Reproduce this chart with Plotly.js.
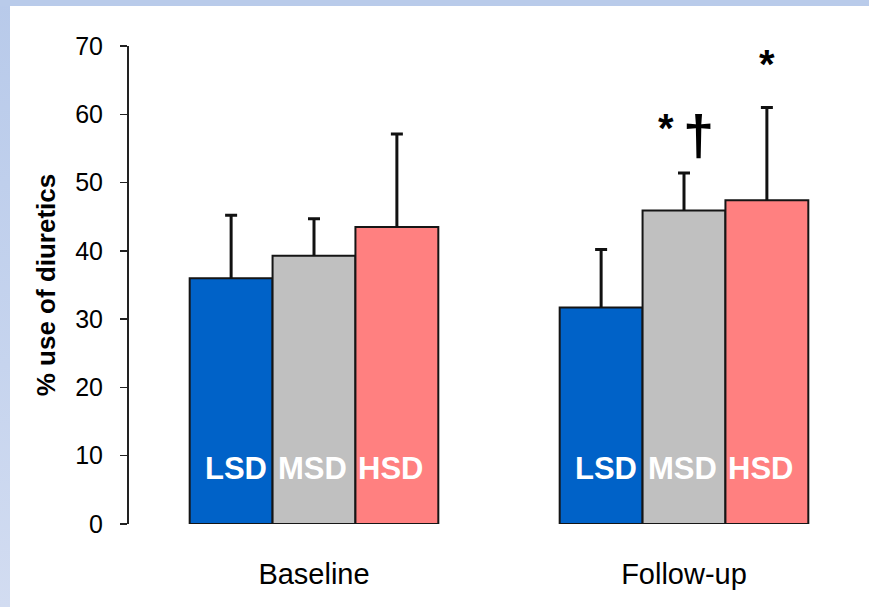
<!DOCTYPE html>
<html>
<head>
<meta charset="utf-8">
<script src="https://cdn.plot.ly/plotly-3.0.1.min.js"></script>
<style>
  html, body { margin: 0; padding: 0; width: 869px; height: 607px; overflow: hidden; }
  body { background: linear-gradient(to bottom, #b8caea 0%, #c6d4ee 60%, #d2dcf1 100%); position: relative; }
  #topband { position: absolute; left: 0; top: 0; width: 869px; height: 6px; background: #b9cbea; }
  #chart { position: absolute; left: 10px; top: 6px; width: 859px; height: 601px; background: #fff; }
</style>
</head>
<body>
<div id="topband"></div>
<div id="chart"></div>
<script>
const categories = ['Baseline', 'Follow-up'];
const groups = ['LSD', 'MSD', 'HSD'];
const lsdValues = [36.0, 31.7];
const lsdErrors = [9.2, 8.5];
const msdValues = [39.3, 45.9];
const msdErrors = [5.4, 5.5];
const hsdValues = [43.5, 47.4];
const hsdErrors = [13.6, 13.6];
const yTicks = [0, 10, 20, 30, 40, 50, 60, 70];
// significance marks: [category index, group index, symbol]
const sigMarks = [
  [1, 1, '*'],
  [1, 1, '†'],
  [1, 2, '*']
];

const colors = ['#0062c8', '#c0c0c0', '#ff8080'];
const values = [lsdValues, msdValues, hsdValues];
const errors = [lsdErrors, msdErrors, hsdErrors];
const FONT = 'Liberation Sans, Arial, Helvetica, sans-serif';
const bargap = 0.328;
const barW = (1 - bargap) / groups.length;
const labelShift = [5, -2, -6];

// visible bars with upward error stems (no caps)
const barTraces = groups.map((g, j) => ({
  type: 'bar',
  name: g,
  x: categories,
  y: values[j],
  offsetgroup: String(j),
  marker: { color: colors[j], line: { color: '#151515', width: 2 } },
  error_y: {
    type: 'data', symmetric: false,
    array: errors[j], arrayminus: errors[j].map(() => 0),
    color: '#111', thickness: 3, width: 0
  },
  hoverinfo: 'skip'
}));
// invisible bars reaching the error top, used only to draw the caps
const capTraces = groups.map((g, j) => ({
  type: 'bar',
  name: g + ' cap',
  x: categories,
  y: values[j].map((v, i) => v + errors[j][i]),
  offsetgroup: String(j),
  marker: { color: 'rgba(0,0,0,0)', line: { width: 0 } },
  error_y: {
    type: 'data', symmetric: false,
    array: errors[j].map(() => 0), arrayminus: errors[j].map(() => 0),
    color: '#111', thickness: 3, width: 6
  },
  hoverinfo: 'skip'
}));

const annotations = [];
categories.forEach((c, i) => {
  groups.forEach((g, j) => {
    annotations.push({
      xref: 'x', yref: 'y', x: i + (j - 1) * barW, y: 8.1, xshift: labelShift[j],
      text: '<b>' + g + '</b>', showarrow: false,
      font: { family: FONT, size: 31, color: '#ffffff' },
      xanchor: 'center', yanchor: 'middle'
    });
  });
});
sigMarks.forEach(([i, j, s]) => {
  const top = values[j][i] + errors[j][i];
  const isDagger = s === '†';
  let xshift = 0, yval = top + 6.4;
  if (j === 1) { xshift = isDagger ? 14 : -18; yval = isDagger ? top + 5.6 : top + 6.6; }
  annotations.push({
    xref: 'x', yref: 'y', x: i + (j - 1) * barW, y: yval, xshift: xshift,
    text: '<b>' + s + '</b>', showarrow: false,
    font: { family: FONT, size: isDagger ? 56 : 40, color: '#000' },
    xanchor: 'center', yanchor: 'middle'
  });
});

const layout = {
  width: 859, height: 601,
  margin: { l: 119, r: 0, t: 40, b: 83 },
  paper_bgcolor: '#ffffff', plot_bgcolor: '#ffffff',
  barmode: 'group', bargap: bargap, bargroupgap: 0,
  showlegend: false,
  font: { family: FONT, color: '#000' },
  xaxis: {
    type: 'category', range: [-0.5, 1.5],
    showline: false, showgrid: false, zeroline: false,
    ticks: '', ticklabelstandoff: 30,
    tickfont: { family: FONT, size: 29, color: '#000' }
  },
  yaxis: {
    range: [0, 70], tickvals: yTicks, ticktext: yTicks.map(String),
    showline: true, linecolor: '#222', linewidth: 2,
    ticks: 'outside', ticklen: 7, tickwidth: 1.5, tickcolor: '#222',
    showgrid: false, zeroline: false, ticklabelstandoff: 12,
    tickfont: { family: FONT, size: 25, color: '#000' },
    title: { text: '<b>% use of diuretics</b>', font: { family: FONT, size: 26, color: '#000' }, standoff: 12 }
  },
  annotations: annotations
};

Plotly.newPlot('chart', barTraces.concat(capTraces), layout, { displayModeBar: false, staticPlot: true });
</script>
</body>
</html>
